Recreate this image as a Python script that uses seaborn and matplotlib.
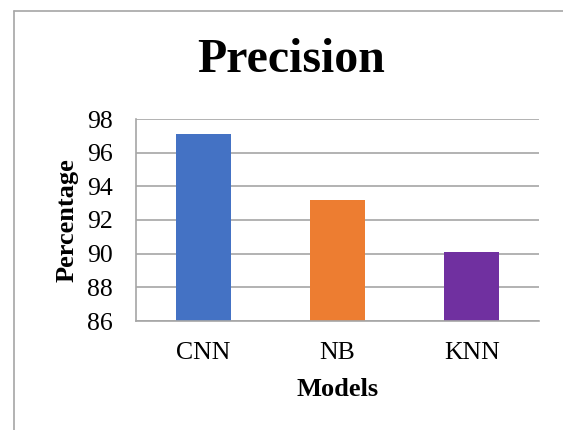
import matplotlib
matplotlib.use("Agg")
import matplotlib.pyplot as plt
import seaborn as sns
import pandas as pd
from matplotlib.lines import Line2D

models = ["CNN", "NB", "KNN"]
precision = [97.1, 93.2, 90.1]
bar_colors = ["#4472C4", "#ED7D31", "#7030A0"]
y_ticks = [86, 88, 90, 92, 94, 96, 98]

sns.set_style("white")
plt.rcParams["font.family"] = ["Liberation Serif", "DejaVu Serif"]
plt.rcParams["text.color"] = "black"
plt.rcParams["axes.labelcolor"] = "black"
plt.rcParams["xtick.color"] = "black"
plt.rcParams["ytick.color"] = "black"

df = pd.DataFrame({"Models": models, "Percentage": precision})

fig = plt.figure(figsize=(5.63, 4.30), dpi=100)
ax = fig.add_axes([136 / 563, 1 - 321 / 430, (539 - 136) / 563, (321 - 119) / 430])

sns.barplot(data=df, x="Models", y="Percentage", hue="Models", palette=bar_colors,
            width=0.41, legend=False, ax=ax, saturation=1, linewidth=0)

ax.set_ylim(86, 98)
ax.set_yticks(y_ticks)
ax.set_yticklabels([str(t) for t in y_ticks], fontsize=18.5)
ax.tick_params(axis="y", length=6, width=1, color="#a6a6a6", labelcolor="black", pad=11)
ax.tick_params(axis="x", length=0, pad=15, labelsize=18.5, labelcolor="black")
ax.yaxis.grid(True, color="#a6a6a6", linewidth=1.2)
ax.set_axisbelow(True)

for side in ["top", "right"]:
    ax.spines[side].set_visible(False)
for side in ["left", "bottom"]:
    ax.spines[side].set_color("#a6a6a6")
    ax.spines[side].set_linewidth(1.2)

ax.set_xlabel("Models", fontsize=19, fontweight="bold", labelpad=10, color="black")
ax.set_ylabel("Percentage", fontsize=19, fontweight="bold", labelpad=6, color="black")

fig.text(291 / 563, 1 - 60 / 430, "Precision", ha="center", va="center",
         fontsize=34.5, fontweight="bold", color="black")

# chart frame (left and top edges)
frame_color = "#a6a6a6"
fig.add_artist(Line2D([14 / 563, 14 / 563], [0, 1 - 11 / 430], transform=fig.transFigure,
                      color=frame_color, linewidth=1.2))
fig.add_artist(Line2D([14 / 563, 1], [1 - 11 / 430, 1 - 11 / 430], transform=fig.transFigure,
                      color=frame_color, linewidth=1.2))

fig.savefig("out.png", dpi=100)
